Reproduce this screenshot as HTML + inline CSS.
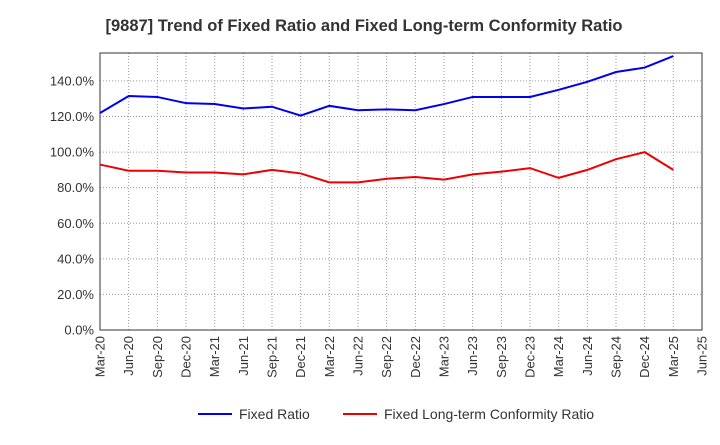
<!DOCTYPE html>
<html><head><meta charset="utf-8"><style>
body{margin:0;background:#fff;font-family:"Liberation Sans",sans-serif}
</style></head><body>
<svg id="chart" width="720" height="440" xmlns="http://www.w3.org/2000/svg">
<text x="364" y="31" text-anchor="middle" font-size="16.5" font-weight="bold" fill="#333">[9887]  Trend of Fixed Ratio and Fixed Long-term Conformity Ratio</text>
<g id="grid"></g><g id="axes"></g><g id="series"></g>
<g>
<line x1="198" y1="414" x2="232" y2="414" stroke="#0000ee" stroke-width="2"/>
<text x="239" y="419" font-size="14" fill="#333">Fixed Ratio</text>
<line x1="343" y1="414" x2="377" y2="414" stroke="#ee0000" stroke-width="2"/>
<text x="384" y="419" font-size="14" fill="#333">Fixed Long-term Conformity Ratio</text>
</g>
</svg>
<script>
const xLabels=["Mar-20","Jun-20","Sep-20","Dec-20","Mar-21","Jun-21","Sep-21","Dec-21","Mar-22","Jun-22","Sep-22","Dec-22","Mar-23","Jun-23","Sep-23","Dec-23","Mar-24","Jun-24","Sep-24","Dec-24","Mar-25","Jun-25"];
const yTicks=[0,20,40,60,80,100,120,140];
const fixedRatio=[122,131.5,131,127.5,127,124.5,125.5,120.5,126,123.5,124,123.5,127,131,131,131,135,139.5,145,147.5,154];
const conformityRatio=[93,89.5,89.5,88.5,88.5,87.5,90,88,83,83,85,86,84.5,87.5,89,91,85.5,90,96,100,90];
const L=100,R=702,T=53,B=330,YMAX=155.7;
const ns="http://www.w3.org/2000/svg";
const xs=i=>L+(R-L)*i/(xLabels.length-1);
const ys=v=>B-(B-T)*v/YMAX;
function mk(p,t,a){const e=document.createElementNS(ns,t);for(const k in a)e.setAttribute(k,a[k]);document.getElementById(p).appendChild(e);return e;}
xLabels.forEach((lb,i)=>{const x=xs(i);
 const g=mk('grid','line',{x1:x,x2:x,y1:T,y2:B,stroke:'#999','stroke-dasharray':'1,2'});
 
 
 const t=mk('axes','text',{x:0,y:0,transform:`translate(${x+4.5},${B+6}) rotate(-90)`,'text-anchor':'end','font-size':13,fill:'#333'});
 t.textContent=lb;
 
 
});
yTicks.forEach(v=>{const y=ys(v);
 const g=mk('grid','line',{x1:L,x2:R,y1:y,y2:y,stroke:'#999','stroke-dasharray':'1,2'});
 
 
 const t=mk('axes','text',{x:L-6,y:y+4.5,'text-anchor':'end','font-size':13,fill:'#333'});
 t.textContent=v.toFixed(1)+'%';
 
 
});
const fr=mk('axes','rect',{x:L,y:T,width:R-L,height:B-T,fill:'none',stroke:'#333'});


const s1=mk('series','polyline',{points:fixedRatio.map((v,i)=>xs(i)+','+ys(v)).join(' '),fill:'none',stroke:'#0000ee','stroke-width':2});


const s2=mk('series','polyline',{points:conformityRatio.map((v,i)=>xs(i)+','+ys(v)).join(' '),fill:'none',stroke:'#ee0000','stroke-width':2});


</script>
</body></html>
